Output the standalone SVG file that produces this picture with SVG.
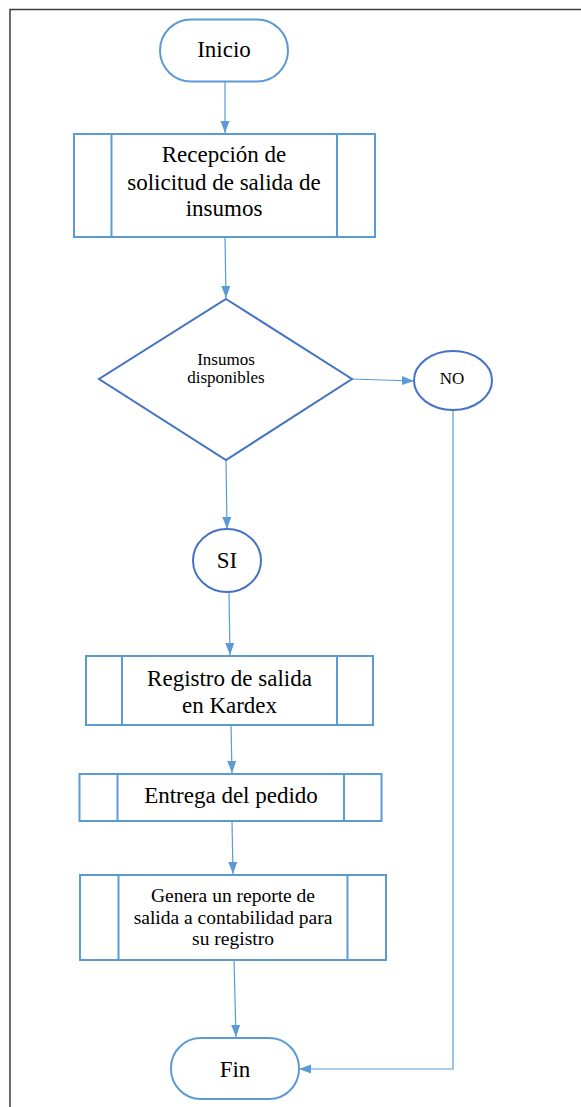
<svg xmlns="http://www.w3.org/2000/svg" width="581" height="1107" viewBox="0 0 581 1107">
<style>
.term{fill:#fff;stroke:#5B9BD5;stroke-width:2}
.proc{fill:#fff;stroke:#5B9BD5;stroke-width:2}
.dec{fill:#fff;stroke:#4472C4;stroke-width:2}
.conn{fill:none;stroke:#5B9BD5;stroke-width:1.2}
.t{font-family:"Liberation Serif","Times New Roman",serif;fill:#000;text-anchor:middle}
.big{font-size:23px}
.mid{font-size:19.5px}
.sm{font-size:17px}
</style>
<defs>
<marker id="arr" markerUnits="userSpaceOnUse" markerWidth="12" markerHeight="12" viewBox="0 0 12 12" refX="12" refY="6" orient="auto">
<path d="M0,1.5 L12,6 L0,10.5 Z" fill="#5B9BD5"/>
</marker>
</defs>
<rect width="581" height="1107" fill="#fff"/>
<path d="M10,1107 V9.5 H581" fill="none" stroke="#3c3c3c" stroke-width="1.5"/>
<g id="connectors">
<path class="conn" d="M225,82 L225,133" marker-end="url(#arr)"/>
<path class="conn" d="M225,237 L226,298" marker-end="url(#arr)"/>
<path class="conn" d="M352,379 L414,381" marker-end="url(#arr)"/>
<path class="conn" d="M453,410 V1069 H299" marker-end="url(#arr)"/>
<path class="conn" d="M226,460 L227,529" marker-end="url(#arr)"/>
<path class="conn" d="M229,592 L230,655" marker-end="url(#arr)"/>
<path class="conn" d="M231,725 L232,773" marker-end="url(#arr)"/>
<path class="conn" d="M232,821 L233,874" marker-end="url(#arr)"/>
<path class="conn" d="M234,960 L236,1037" marker-end="url(#arr)"/>
</g>
<g id="inicio">
<rect class="term" x="160" y="19.5" width="128" height="62" rx="31"/>
<text class="t big" x="224" y="57">Inicio</text>
</g>
<g id="recepcion">
<rect class="proc" x="74" y="134" width="301" height="103"/>
<line class="proc" x1="111.5" y1="134" x2="111.5" y2="237"/>
<line class="proc" x1="337" y1="134" x2="337" y2="237"/>
<text class="t big" x="224" y="162">Recepción de</text>
<text class="t big" x="224" y="190">solicitud de salida de</text>
<text class="t big" x="224" y="216">insumos</text>
</g>
<g id="decision">
<polygon class="dec" points="226,299 352,379 226,460 99,379"/>
<text class="t sm" x="226" y="365">Insumos</text>
<text class="t sm" x="226" y="383">disponibles</text>
</g>
<g id="no">
<ellipse class="dec" cx="453" cy="380.5" rx="39" ry="29.5"/>
<text class="t sm" x="452" y="384">NO</text>
</g>
<g id="si">
<ellipse class="dec" cx="227" cy="560.5" rx="34" ry="31.5"/>
<text class="t big" x="227" y="568">SI</text>
</g>
<g id="registro">
<rect class="proc" x="86" y="656" width="287" height="69"/>
<line class="proc" x1="122" y1="656" x2="122" y2="725"/>
<line class="proc" x1="337" y1="656" x2="337" y2="725"/>
<text class="t big" x="229.5" y="686">Registro de salida</text>
<text class="t big" x="229.5" y="713">en Kardex</text>
</g>
<g id="entrega">
<rect class="proc" x="79.5" y="774" width="302" height="47"/>
<line class="proc" x1="117.5" y1="774" x2="117.5" y2="821"/>
<line class="proc" x1="344" y1="774" x2="344" y2="821"/>
<text class="t big" x="231" y="803">Entrega del pedido</text>
</g>
<g id="genera">
<rect class="proc" x="80" y="875" width="306" height="85"/>
<line class="proc" x1="118.5" y1="875" x2="118.5" y2="960"/>
<line class="proc" x1="347.5" y1="875" x2="347.5" y2="960"/>
<text class="t mid" x="233" y="902">Genera un reporte de</text>
<text class="t mid" x="233" y="924">salida a contabilidad para</text>
<text class="t mid" x="233" y="945">su registro</text>
</g>
<g id="fin">
<rect class="term" x="171" y="1038" width="128" height="61" rx="30"/>
<text class="t big" x="235" y="1077">Fin</text>
</g>
</svg>
